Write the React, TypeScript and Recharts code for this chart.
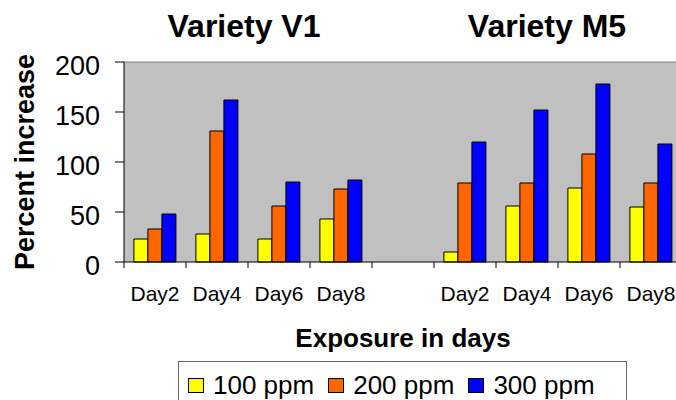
import { Bar, BarChart, CartesianGrid, Label, Legend, ReferenceLine, XAxis, YAxis } from 'recharts';

// two varieties, Day2..Day8 each, with an empty slot between them
const categories = ['Day2', 'Day4', 'Day6', 'Day8', '', 'Day2', 'Day4', 'Day6', 'Day8'];
const ppm100 = [23, 28, 23, 43, null, 10, 56, 74, 55];
const ppm200 = [33, 131, 56, 73, null, 79, 79, 108, 79];
const ppm300 = [48, 162, 80, 82, null, 120, 152, 178, 118];
const seriesNames = ['100 ppm', '200 ppm', '300 ppm'];
const yTicks = [0, 50, 100, 150, 200];
const varieties = ['Variety V1', 'Variety M5'];

const COLORS = ['#ffff00', '#ff6600', '#0000ff'];
const FONT = '"Liberation Sans", Arial, sans-serif';

const CHART_W = 700;
const CHART_H = 420;
const MARGIN = { top: 62, right: 18, bottom: 118, left: 0 };
const Y_AXIS_W = 124;
const BAND = (CHART_W - MARGIN.right - MARGIN.left - Y_AXIS_W) / categories.length;

const data = categories.map((day, i) => ({
  key: `${i}-${day}`,
  day,
  ppm100: ppm100[i],
  ppm200: ppm200[i],
  ppm300: ppm300[i],
}));

// Excel-style axis: tick marks between categories, label in the middle
function DayTick(props: any) {
  const { x, y, payload } = props;
  const left = x - BAND / 2;
  return (
    <g>
      <line x1={left} x2={left} y1={y} y2={y + 6} stroke="#000" />
      <text x={x} y={y + 39} textAnchor="middle" fontSize={21} fill="#000">
        {categories[payload.index]}
      </text>
    </g>
  );
}

function LegendBox(props: any) {
  const items = props.payload ?? [];
  return (
    <div
      style={{
        border: '1px solid #666',
        height: 44,
        boxSizing: 'border-box',
        display: 'flex',
        alignItems: 'center',
        paddingLeft: 9,
        paddingTop: 4,
        background: '#fff',
        fontFamily: FONT,
      }}
    >
      {items.map((item: any, i: number) => (
        <div key={item.value} style={{ display: 'flex', alignItems: 'center', marginRight: i < items.length - 1 ? 14 : 0 }}>
          <span
            style={{
              display: 'inline-block',
              width: 16,
              height: 15,
              boxSizing: 'border-box',
              border: '1px solid #000',
              background: item.color,
              marginRight: 9,
            }}
          />
          <span style={{ fontSize: 26, lineHeight: '30px', color: '#000' }}>{item.value}</span>
        </div>
      ))}
    </div>
  );
}

export default function App() {
  return (
    <div
      style={{
        position: 'fixed',
        left: 0,
        top: 0,
        width: 676,
        height: 400,
        overflow: 'hidden',
        background: '#fff',
        fontFamily: FONT,
      }}
    >
      <BarChart
        width={CHART_W}
        height={CHART_H}
        data={data}
        margin={MARGIN}
        barCategoryGap="16%"
        barGap={0}
      >
        <CartesianGrid fill="#c0c0c0" horizontal={false} vertical={false} />
        <ReferenceLine y={200} stroke="#808080" />
        <XAxis
          dataKey="key"
          interval={0}
          height={40}
          tickSize={0}
          tickMargin={0}
          tickLine={false}
          axisLine={{ stroke: '#000' }}
          tick={<DayTick />}
        >
          <Label
            value="Exposure in days"
            position="bottom"
            offset={27}
            style={{ fontSize: 26, fontWeight: 'bold', fill: '#000' }}
          />
        </XAxis>
        <YAxis
          width={Y_AXIS_W}
          domain={[0, 200]}
          ticks={yTicks}
          interval={0}
          tickSize={9}
          tickMargin={15}
          axisLine={{ stroke: '#000' }}
          tickLine={{ stroke: '#000' }}
          tick={{ fontSize: 27, fill: '#000', dy: 3 }}
        >
          <Label
            value="Percent increase"
            angle={-90}
            position="insideLeft"
            offset={24}
            style={{ textAnchor: 'middle', fontSize: 27, fontWeight: 'bold', fill: '#000' }}
          />
        </YAxis>
        <Legend
          verticalAlign="middle"
          layout="horizontal"
          wrapperStyle={{ left: 178, top: 361, width: 449 }}
          content={<LegendBox />}
        />
        {['ppm100', 'ppm200', 'ppm300'].map((k, i) => (
          <Bar
            key={k}
            dataKey={k}
            name={seriesNames[i]}
            fill={COLORS[i]}
            stroke="#000"
            strokeWidth={1}
            isAnimationActive={false}
          />
        ))}
      </BarChart>
      <svg
        width={676}
        height={60}
        style={{ position: 'absolute', left: 0, top: 0, pointerEvents: 'none' }}
      >
        <text x={244} y={37} textAnchor="middle" fontSize={32} fontWeight="bold" fill="#000">
          {varieties[0]}
        </text>
        <text x={547} y={37} textAnchor="middle" fontSize={32} fontWeight="bold" fill="#000">
          {varieties[1]}
        </text>
      </svg>
    </div>
  );
}
